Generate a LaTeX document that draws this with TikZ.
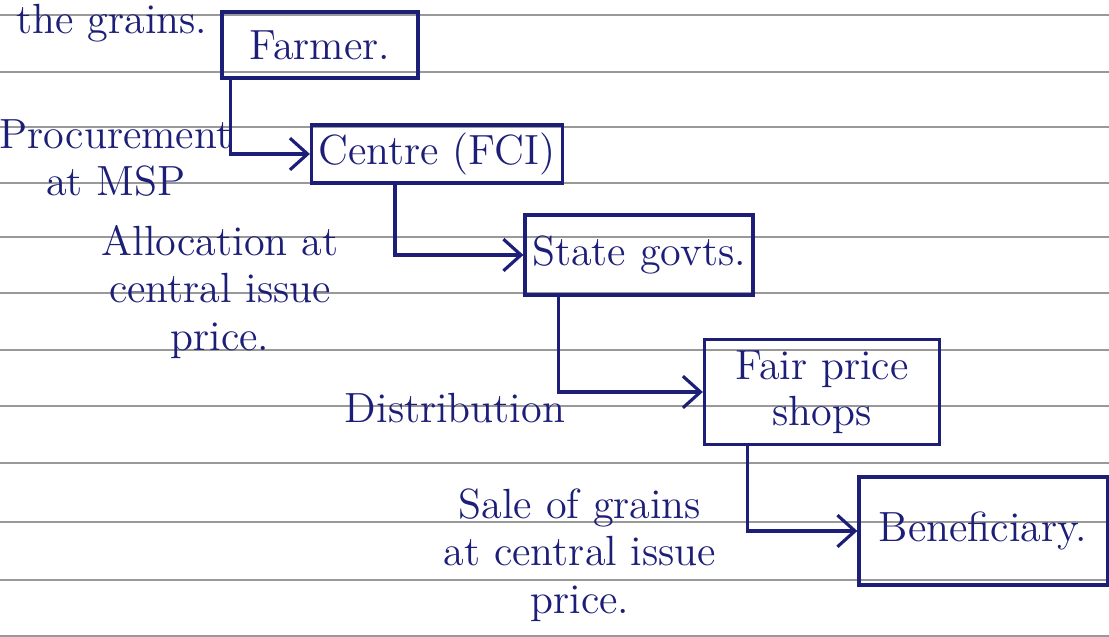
\documentclass[tikz,border=0pt]{standalone}
\usepackage{tikz}
\usetikzlibrary{arrows.meta}
\definecolor{ink}{RGB}{28,30,120}
\tikzset{
  box/.style={draw=ink, line width=0.9pt, text=ink, font=\fontsize{12}{13}\selectfont, inner sep=2pt, align=center},
  lbl/.style={text=ink, font=\fontsize{12}{13.5}\selectfont, align=center},
  flow/.style={draw=ink, line width=0.9pt, -{Straight Barb[length=5pt,width=9pt]}},
}
\begin{document}
\begin{tikzpicture}[x=0.01cm,y=-0.01cm]
  \useasboundingbox (0,0) rectangle (1109,637);
  % ruled paper
  \foreach \ry in {15,72,127,183,237,293,350,406,463,522,580,636}
    \draw[black!40, line width=0.5pt] (0,\ry) -- (1109,\ry);
  \node[lbl, anchor=base west] (top) at (4,34) {the grains.};
  % boxes
  \node[box, minimum width=1.96cm, minimum height=0.66cm] (farmer) at (320,45) {Farmer.};
  \node[box, minimum width=2.49cm, minimum height=0.58cm] (centre) at (437,154) {Centre (FCI)};
  \node[box, minimum width=2.28cm, minimum height=0.80cm] (state) at (639,255) {State govts.};
  \node[box, minimum width=2.35cm, minimum height=1.05cm] (fps) at (822,392) {Fair price\\shops};
  \node[box, minimum width=2.48cm, minimum height=1.08cm] (benef) at (983,531) {Beneficiary.};
  % labels
  \node[lbl] (proc) at (116,158) {Procurement\\at MSP};
  \node[lbl] (alloc) at (220,292) {Allocation at\\central issue\\price.};
  \node[lbl] (dist) at (455,408) {Distribution};
  \node[lbl] (sale) at (580,555) {Sale of grains\\at central issue\\price.};
  % connectors
  \draw[flow] ([xshift=0.1cm]farmer.south west) |- (centre.west);
  \draw[flow] ([xshift=0.85cm]centre.south west) |- (state.west);
  \draw[flow] ([xshift=0.35cm]state.south west) |- (fps.west);
  \draw[flow] ([xshift=0.45cm]fps.south west) |- (benef.west);
\end{tikzpicture}
\end{document}
